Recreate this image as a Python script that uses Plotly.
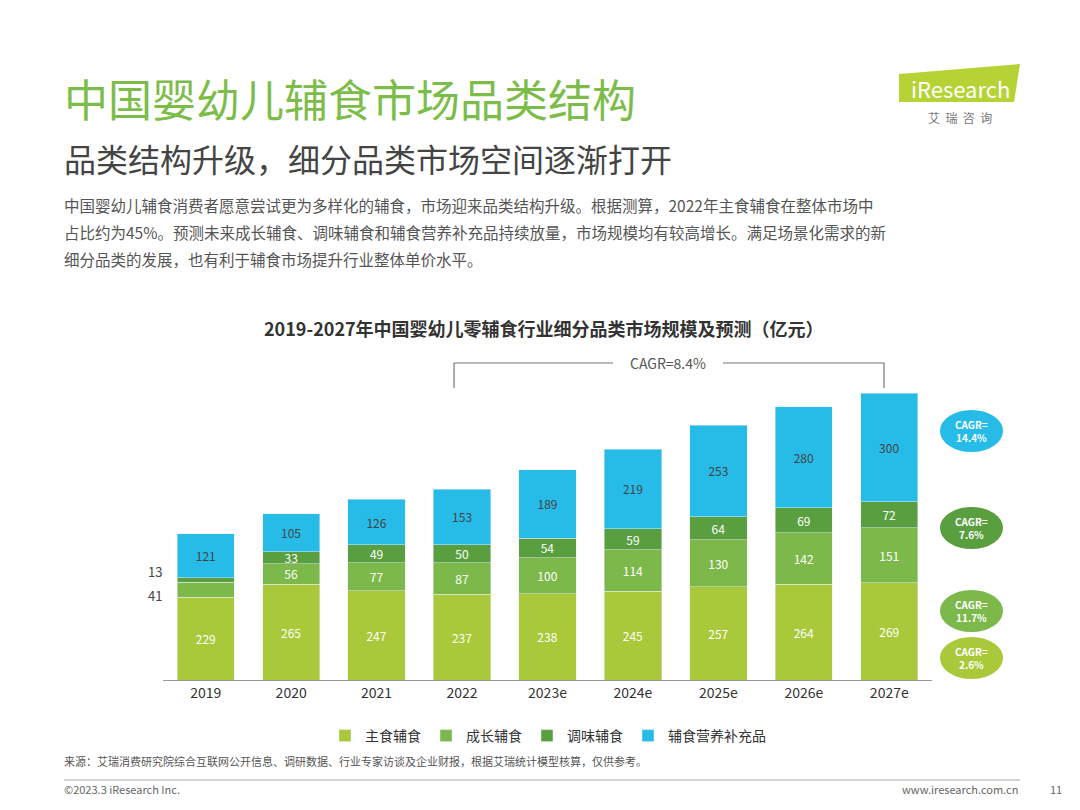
import plotly.graph_objects as go

years = ["2019","2020","2021","2022","2023e","2024e","2025e","2026e","2027e"]
staple = [229,265,247,237,238,245,257,264,269]
growth = [41,56,77,87,100,114,130,142,151]
condiment = [13,33,49,50,54,59,64,69,72]
supplement = [121,105,126,153,189,219,253,280,300]
names = ["主食辅食","成长辅食","调味辅食","辅食营养补充品"]
colors = ["#a9c93a","#7cb94a","#5a9f3f","#27bbe8"]
cagr = ["2.6%","11.7%","7.6%","14.4%"]

F = "Noto Sans CJK SC"
fig = go.Figure()
series = [staple, growth, condiment, supplement]
for i,(s,n,c) in enumerate(zip(series,names,colors)):
    txt = [str(v) for v in s]
    if i in (1,2):
        txt[0] = ""
    fig.add_bar(x=years, y=s, name=n, marker_color=c, width=0.67,
                text=txt, textposition="inside", insidetextanchor="middle", textangle=0,
                constraintext="none",
                textfont=dict(color="white" if i<3 else "#444", size=12, family=F),
                cliponaxis=False)

fig.update_layout(
    barmode="stack", width=1080, height=810, margin=dict(l=0,r=0,t=0,b=0),
    paper_bgcolor="white", plot_bgcolor="white", font=dict(family=F),
    xaxis=dict(domain=[155/1080, 924/1080], showline=True, linecolor="#999",
               tickfont=dict(size=14, color="#333"), ticks=""),
    yaxis=dict(domain=[1-672/810, 1-316/810], range=[0, 983], visible=False),
    legend=dict(orientation="h", x=0.5, xanchor="center", y=1-728/810, yanchor="middle",
                font=dict(size=14, color="#333"), itemwidth=30, traceorder="normal"),
    showlegend=True,
)

ann = []
def A(x,y,t,size,color="#333",xanchor="center"):
    ann.append(dict(x=x/1080,y=1-y/810,xref="paper",yref="paper",text=t,showarrow=False,
                    xanchor=xanchor,yanchor="middle",
                    font=dict(size=size,color=color,family=F)))
A(54,90,"中国婴幼儿辅食市场品类结构",44,"#7cbd4a","left")
A(54,150,"品类结构升级，细分品类市场空间逐渐打开",32,"#444","left")
body = ["中国婴幼儿辅食消费者愿意尝试更为多样化的辅食，市场迎来品类结构升级。根据测算，2022年主食辅食在整体市场中",
        "占比约为45%。预测未来成长辅食、调味辅食和辅食营养补充品持续放量，市场规模均有较高增长。满足场景化需求的新",
        "细分品类的发展，也有利于辅食市场提升行业整体单价水平。"]
for k,t in enumerate(body):
    A(54,197+27*k,t,15.5,"#555","left")
A(536,320,"<b>2019-2027年中国婴幼儿零辅食行业细分品类市场规模及预测（亿元）</b>",18,"#333")
A(660,355,"CAGR=8.4%",14,"#555")
A(156,563,"13",13,"#444","right")
A(156,587,"41",13,"#444","right")
A(54,753,"来源：艾瑞消费研究院综合互联网公开信息、调研数据、行业专家访谈及企业财报，根据艾瑞统计模型核算，仅供参考。",11,"#555","left")
A(54,781,"©2023.3 iResearch Inc.",11,"#666","left")
A(1012,781,"www.iresearch.com.cn",11,"#666","right")
A(1056,781,"11",11,"#666","right")
A(952,80,"iResearch",22,"white")
A(952,110,"艾  瑞  咨  询",12,"#777")

def path_px(pts, close=False):
    s = " ".join(f"{cmd} {x/1080:.4f} {1-y/810:.4f}" for cmd,x,y in pts)
    return s + (" Z" if close else "")
def P(x0,y0,x1,y1): return dict(x0=x0/1080,x1=x1/1080,y0=1-y0/810,y1=1-y1/810,xref="paper",yref="paper")

shapes = [dict(type="path", path=path_px([("M",446,380),("L",446,355),("L",605,355),("M",715,355),("L",876,355),("L",876,380)]),
               xref="paper", yref="paper", line=dict(color="#777",width=1.2))]
ell = [(650,colors[0]),(603,"#7cb94a"),(520,colors[2]),(423,colors[3])]
for (yc,c),g in zip(ell,cagr):
    shapes.append(dict(type="circle",fillcolor=c,line=dict(color=c),layer="below",**P(933,yc-20,994,yc+20)))
    A(963,yc,f"<b>CAGR=<br>{g}</b>",10,"white")
shapes.append(dict(type="line",line=dict(color="#aaa",width=1),**P(56,772,1012,772)))
shapes.append(dict(type="path",path=path_px([("M",891,66),("L",1012,56),("L",1006,94),("L",891,94)],True),
                   fillcolor="#b5d334",line=dict(width=0),layer="below",xref="paper",yref="paper"))
fig.update_layout(annotations=ann, shapes=shapes)
fig.write_html("out.html")
